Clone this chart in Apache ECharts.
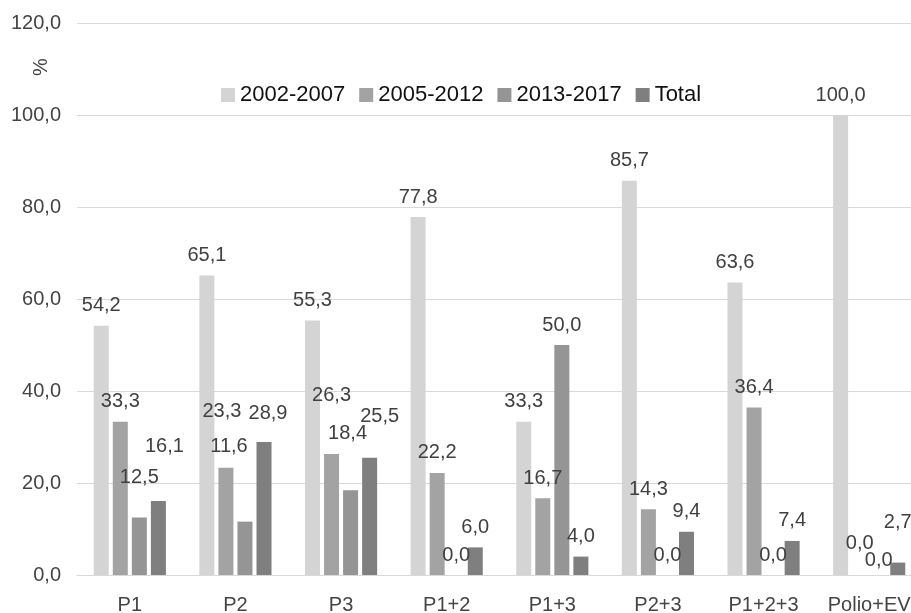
<!DOCTYPE html>
<html>
<head>
<meta charset="utf-8">
<script src="https://cdn.jsdelivr.net/npm/echarts@6/dist/echarts.min.js"></script>
<style>
  html, body { margin: 0; padding: 0; background: #fff; }
  #chart { width: 911px; height: 613px; }
</style>
</head>
<body>
<div id="chart"></div>
<script>
const categories = ['P1', 'P2', 'P3', 'P1+2', 'P1+3', 'P2+3', 'P1+2+3', 'Polio+EV']
const seriesNames = ['2002-2007', '2005-2012', '2013-2017', 'Total']
const s2002 = [54.2, 65.1, 55.3, 77.8, 33.3, 85.7, 63.6, 100.0]
const s2005 = [33.3, 23.3, 26.3, 22.2, 16.7, 14.3, 36.4, 0.0]
const s2013 = [12.5, 11.6, 18.4, 0.0, 50.0, 0.0, 0.0, 0.0]
const sTotal = [16.1, 28.9, 25.5, 6.0, 4.0, 9.4, 7.4, 2.7]
const colors = ['#d4d4d4', '#a3a3a3', '#959595', '#7f7f7f']

// labels nudged by hand in the original (series, category, dx, dy)
const labelShift = [
  [2, 0, 0, -20], [3, 0, 6, -34],
  [1, 1, -4, -36], [2, 1, -16, -55], [3, 1, 4, -9],
  [1, 2, 0, -39], [2, 2, -3, -37], [3, 2, 10, -21],
  [1, 7, 0, -12], [2, 7, 0, 5], [3, 7, 0, -20]
]

const fmt = v => Number(v).toFixed(1).replace('.', ',')
const font = 'Liberation Sans, Arial, sans-serif'

const chart = echarts.init(document.getElementById('chart'))

const seriesData = [s2002, s2005, s2013, sTotal]

function buildData (si) {
  return seriesData[si].map((v, ci) => {
    const s = labelShift.find(d => d[0] === si && d[1] === ci)
    if (!s) return v
    return { value: v, label: { offset: [s[2], s[3]] } }
  })
}

chart.setOption({
  animation: false,
  textStyle: { fontFamily: font },
  grid: { left: 77, top: 23, width: 845, height: 552, outerBoundsMode: 'none' },
  legend: {
    top: 79,
    left: 216,
    itemWidth: 14,
    itemHeight: 14,
    itemGap: 14,
    icon: 'rect',
    textStyle: { fontSize: 22, color: '#111', fontFamily: font },
    data: seriesNames
  },
  graphic: [{
    type: 'text',
    x: 41,
    y: 67,
    rotation: Math.PI / 2,
    style: { text: '%', fontSize: 20, fill: '#444', fontFamily: font, align: 'center', verticalAlign: 'middle' }
  }],
  xAxis: {
    type: 'category',
    data: categories,
    axisLine: { lineStyle: { color: '#d9d9d9' } },
    axisTick: { show: false },
    axisLabel: { color: '#444', fontSize: 20, margin: 20, interval: 0, fontFamily: font }
  },
  yAxis: {
    type: 'value',
    min: 0,
    max: 120,
    interval: 20,
    axisLine: { show: false },
    axisTick: { show: false },
    splitLine: { lineStyle: { color: '#d9d9d9' } },
    axisLabel: { color: '#444', fontSize: 20, margin: 16, formatter: fmt, fontFamily: font }
  },
  series: seriesNames.map((name, i) => ({
    name: name,
    type: 'bar',
    data: buildData(i),
    barWidth: 15,
    barGap: '27%',
    itemStyle: { color: colors[i] },
    label: {
      show: true,
      position: 'top',
      distance: 10,
      color: '#404040',
      fontSize: 20,
      fontFamily: font,
      formatter: p => fmt(p.value)
    }
  }))
})
</script>
</body>
</html>
